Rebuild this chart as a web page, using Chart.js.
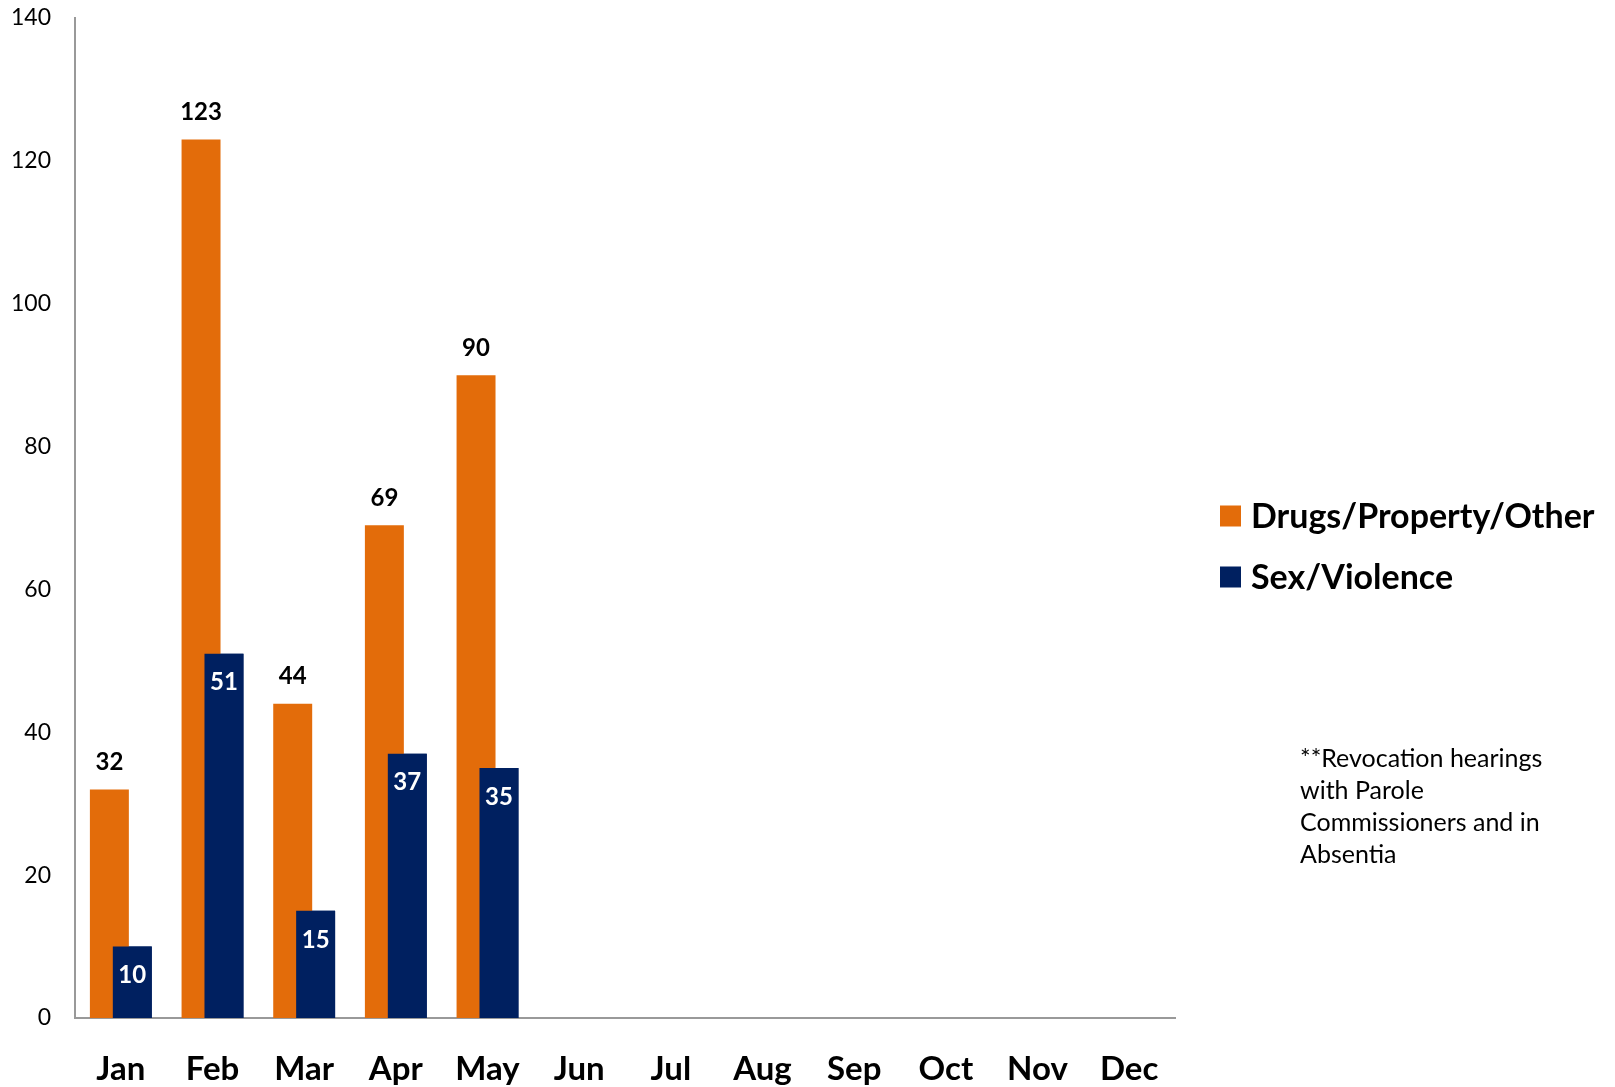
<!DOCTYPE html>
<html>
<head>
<meta charset="utf-8">
<script src="https://cdn.jsdelivr.net/npm/chart.js@4/dist/chart.umd.min.js"></script>
<style>
  html, body { margin: 0; padding: 0; background: #fff; }
  #wrap { width: 1615px; height: 1087px; }
</style>
</head>
<body>
<div id="wrap"><canvas id="grafico"></canvas></div>
<script>
var meses = ["Jan", "Feb", "Mar", "Apr", "May", "Jun", "Jul", "Aug", "Sep", "Oct", "Nov", "Dec"];
var drogas = [32, 123, 44, 69, 90, null, null, null, null, null, null, null];
var violencia = [10, 51, 15, 37, 35, null, null, null, null, null, null, null];
var nota = ["**Revocation hearings", "with Parole", "Commissioners and in", "Absentia"];

var fonte = "Lato, 'Open Sans', sans-serif";

// rotulos dos valores, legenda e nota
var extras = {
    id: "extras",
    afterDatasetsDraw: function (chart) {
        var ctx = chart.ctx;
        // a serie azul fica por cima da laranja
        chart.getDatasetMeta(1).controller.draw();

        ctx.save();
        ctx.textAlign = "center";
        ctx.textBaseline = "middle";
        ctx.font = "bold 24px " + fonte;
        chart.data.datasets.forEach(function (ds, i) {
            var meta = chart.getDatasetMeta(i);
            meta.data.forEach(function (bar, j) {
                var v = ds.data[j];
                if (v === null) return;
                if (i === 0) {
                    ctx.fillStyle = "#000";
                    ctx.fillText(v, bar.x, bar.y - 27);
                } else {
                    ctx.fillStyle = "#fff";
                    ctx.fillText(v, bar.x, bar.y + 29);
                }
            });
        });

        // legenda
        ctx.textAlign = "left";
        ctx.font = "bold 34px " + fonte;
        chart.data.datasets.forEach(function (ds, i) {
            var y = 516 + i * 61;
            ctx.fillStyle = ds.backgroundColor;
            ctx.fillRect(1220, y - 10.5, 21, 21);
            ctx.fillStyle = "#000";
            ctx.fillText(ds.label, 1251, y + 1);
        });

        // nota
        ctx.font = "25px " + fonte;
        nota.forEach(function (linha, k) {
            ctx.fillText(linha, 1300, 759 + k * 32);
        });
        ctx.restore();
    }
};

new Chart(document.getElementById("grafico"), {
    type: "bar",
    data: {
        labels: meses,
        datasets: [
            {
                label: "Drugs/Property/Other",
                data: drogas,
                backgroundColor: "#E36C0A",
                categoryPercentage: 0.5,
                barPercentage: 1.7
            },
            {
                label: "Sex/Violence",
                data: violencia,
                backgroundColor: "#002060",
                categoryPercentage: 0.5,
                barPercentage: 1.7
            }
        ]
    },
    options: {
        responsive: true,
        maintainAspectRatio: false,
        animation: false,
        layout: { padding: { top: 18, right: 440, left: 0, bottom: 0 } },
        plugins: {
            legend: { display: false },
            tooltip: { enabled: false }
        },
        scales: {
            x: {
                grid: { display: false, drawTicks: false },
                border: { color: "#999", width: 2 },
                ticks: {
                    color: "#000",
                    font: { family: fonte, size: 33, weight: "bold" },
                    padding: 32
                },
                afterFit: function (s) { s.height = 69; }
            },
            y: {
                min: 0,
                max: 140,
                grid: { display: false, drawTicks: false },
                border: { color: "#999", width: 2 },
                ticks: {
                    stepSize: 20,
                    color: "#000",
                    font: { family: fonte, size: 23 },
                    padding: 24
                },
                afterFit: function (s) {
                    s.width = 75;
                    s.paddingTop = 0;
                    s.paddingBottom = 0;
                }
            }
        }
    },
    plugins: [extras]
});
</script>
</body>
</html>
